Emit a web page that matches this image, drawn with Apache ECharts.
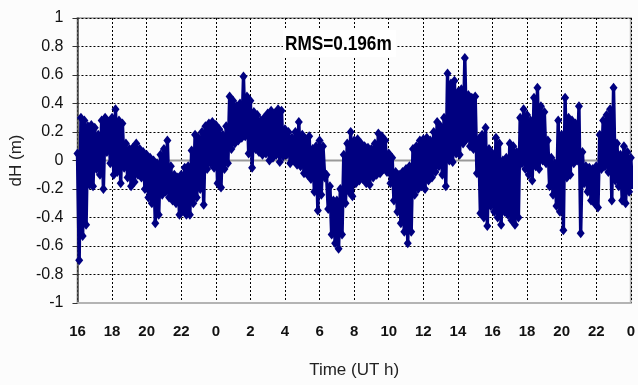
<!DOCTYPE html>
<html>
<head>
<meta charset="utf-8">
<script src="https://cdn.jsdelivr.net/npm/echarts@6/dist/echarts.min.js"></script>
<style>
  html, body { margin: 0; padding: 0; background: #fcfcfc; }
  #chart { width: 638px; height: 385px; }
</style>
</head>
<body>
<div id="chart"></div>
<script>
// Height residual dH (m) over a 32-hour GPS session, UT hours 16 -> 48 (0 h next day).
// Each sampling slot (0.2 h) holds the upper and lower excursion of the residual.
const STEP = 0.2;

// 16 h - 24 h
const block1Start = 16;
const block1Hi = [0.05, 0.30, 0.28, 0.24, 0.25, 0.23, 0.18, 0.28, 0.30, 0.27,
                  0.30, 0.36, 0.28, 0.26, 0.12, 0.08, 0.09, 0.12, 0.08, 0.06,
                  0.04, 0.02, 0.00, -0.02, 0.04, 0.08, 0.14, -0.04, -0.10, -0.12,
                  -0.10, -0.05, -0.04, 0.07, 0.18, 0.16, 0.20, 0.24, 0.26, 0.27];
const block1Lo = [-0.70, -0.53, -0.45, -0.17, -0.18, -0.06, -0.10, -0.20, 0.06, -0.02,
                  -0.10, -0.08, -0.16, -0.05, -0.12, -0.18, -0.15, -0.10, -0.12, -0.20,
                  -0.26, -0.30, -0.44, -0.38, -0.24, -0.22, -0.26, -0.28, -0.30, -0.38,
                  -0.35, -0.38, -0.38, -0.30, -0.26, -0.20, -0.31, -0.06, -0.02, -0.05];

// 0 h - 8 h
const block2Start = 24;
const block2Hi = [0.25, 0.22, 0.18, 0.24, 0.45, 0.42, 0.38, 0.40, 0.59, 0.45,
                  0.42, 0.34, 0.32, 0.28, 0.30, 0.33, 0.35, 0.33, 0.36, 0.35,
                  0.22, 0.20, 0.16, 0.20, 0.27, 0.18, 0.15, 0.17, 0.08, 0.10,
                  0.14, 0.10, -0.10, -0.18, -0.28, -0.28, -0.20, 0.04, 0.12, 0.20];
const block2Lo = [-0.16, -0.19, -0.06, -0.02, 0.08, 0.12, 0.14, 0.16, 0.17, 0.05,
                  -0.05, 0.08, 0.06, 0.04, 0.05, 0.00, 0.02, 0.04, -0.01, 0.03,
                  0.04, -0.02, 0.00, -0.03, -0.04, -0.09, -0.10, -0.13, -0.22, -0.35,
                  -0.24, -0.12, -0.34, -0.52, -0.58, -0.62, -0.52, -0.30, -0.22, -0.25];

// 8 h - 16 h
const block3Start = 32;
const block3Hi = [0.14, 0.15, 0.12, 0.10, 0.09, 0.08, 0.12, 0.19, 0.17, 0.14,
                  0.05, 0.02, -0.08, -0.10, -0.08, -0.06, -0.04, 0.08, 0.10, 0.14,
                  0.15, 0.16, 0.14, 0.20, 0.27, 0.24, 0.30, 0.61, 0.54, 0.56,
                  0.48, 0.50, 0.72, 0.46, 0.44, 0.45, 0.15, 0.18, 0.23, 0.08];
const block3Lo = [-0.16, -0.14, -0.13, -0.16, -0.17, -0.12, -0.10, -0.09, -0.06, -0.08,
                  -0.16, -0.28, -0.36, -0.44, -0.50, -0.58, -0.50, -0.24, -0.20, -0.18,
                  -0.20, -0.14, -0.12, -0.08, -0.04, -0.10, -0.18, 0.00, -0.01, 0.05,
                  0.04, 0.12, 0.15, 0.10, 0.08, -0.09, -0.37, -0.40, -0.46, -0.32];

// 16 h - 24 h (second day)
const block4Start = 40;
const block4Hi = [0.05, 0.16, 0.12, 0.00, 0.02, 0.12, 0.10, 0.06, 0.30, 0.36,
                  0.32, 0.28, 0.44, 0.51, 0.38, 0.34, 0.14, 0.02, -0.02, 0.28,
                  0.18, 0.44, 0.30, 0.28, 0.26, 0.38, 0.06, -0.04, -0.05, -0.06,
                  -0.04, 0.18, 0.28, 0.32, 0.36, 0.51, 0.12, 0.04, 0.10, 0.06, 0.02];
const block4Lo = [-0.36, -0.40, -0.45, -0.36, -0.38, -0.42, -0.45, -0.40, -0.02, -0.06,
                  -0.10, -0.14, -0.04, -0.06, 0.00, -0.02, -0.18, -0.24, -0.32, -0.36,
                  -0.49, -0.12, -0.10, -0.02, 0.00, -0.51, -0.16, -0.22, -0.28, -0.30,
                  -0.33, -0.06, -0.04, -0.08, -0.28, -0.14, -0.18, -0.28, -0.30, -0.22, -0.20];

const rmsLabel = 'RMS=0.196m';
const xTitle = 'Time (UT h)';
const yTitle = 'dH (m)';
const timeRange = [16, 48];

const blocks = [
  [block1Start, block1Hi, block1Lo],
  [block2Start, block2Hi, block2Lo],
  [block3Start, block3Hi, block3Lo],
  [block4Start, block4Hi, block4Lo]
];

// Interleave upper/lower excursions into one time-ordered trace.
const points = [];
blocks.forEach(([start, hi, lo]) => {
  hi.forEach((h, i) => {
    const t = start + i * STEP;
    points.push([+(t).toFixed(2), h]);
    points.push([+(t + STEP / 2).toFixed(2), lo[i]]);
  });
});

const regular = '"Liberation Sans", Arial, sans-serif';

const chart = echarts.init(document.getElementById('chart'), null, { renderer: 'canvas' });

function drawRmsBox() {
  // white label box with a condensed bold caption, anchored in pixel space
  chart.setOption({
    graphic: [
      { type: 'rect', z: 50, shape: { x: 283, y: 30, width: 113, height: 27 }, style: { fill: '#ffffff' } },
      {
        type: 'text', z: 51, x: 285, y: 44, scaleX: 0.82,
        style: { text: rmsLabel, font: 'bold 21px "Liberation Sans", Arial, sans-serif',
                 fill: '#000', textAlign: 'left', textVerticalAlign: 'middle', verticalAlign: 'middle' }
      }
    ]
  });
}

chart.setOption({
  animation: false,
  backgroundColor: '#fcfcfc',
  grid: {
    left: 74, top: 18, right: -5, bottom: 82,
    show: true, borderColor: '#b4b4b4', borderWidth: 2, backgroundColor: 'transparent'
  },
  xAxis: {
    type: 'value', min: 16, max: 48, interval: 2,
    name: xTitle, nameLocation: 'middle', nameGap: 59,
    nameTextStyle: { fontFamily: regular, fontSize: 17, color: '#222' },
    axisLine: { show: true, onZero: false, lineStyle: { color: '#b4b4b4', width: 2 } },
    axisTick: { show: false },
    axisLabel: {
      margin: 21, fontFamily: regular, fontWeight: 'bold', fontSize: 15, color: '#111',
      showMinLabel: true, showMaxLabel: true, hideOverlap: false,
      formatter: v => String(Math.round(v) % 24)
    },
    splitLine: { show: true, lineStyle: { color: '#000', type: [2, 2], width: 1 } }
  },
  yAxis: {
    type: 'value', min: -1, max: 1, interval: 0.2,
    name: yTitle, nameLocation: 'middle', nameGap: 52,
    nameTextStyle: { fontFamily: regular, fontSize: 17, color: '#222' },
    axisLine: { show: true, onZero: false, lineStyle: { color: '#444', width: 1.5 } },
    axisTick: { show: true, length: 5, lineStyle: { color: '#333' } },
    axisLabel: {
      margin: 14, fontFamily: regular, fontSize: 16, color: '#111',
      formatter: v => String(Math.round(v * 10) / 10)
    },
    splitLine: { show: true, lineStyle: { color: '#000', type: [2, 2], width: 1 } }
  },
  series: [
    {
      // zero reference line, drawn beneath the trace
      type: 'line', z: 1, silent: true, symbol: 'none',
      data: [[timeRange[0], 0], [timeRange[1], 0]],
      lineStyle: { color: '#9a9a9a', width: 2 }
    },
    {
      type: 'line', data: points, z: 3,
      symbol: 'diamond', symbolSize: [8, 10], showAllSymbol: true,
      itemStyle: { color: '#000080' },
      lineStyle: { color: '#000080', width: 3.4, join: 'round' }
    }
  ]
});
drawRmsBox();
</script>
</body>
</html>
